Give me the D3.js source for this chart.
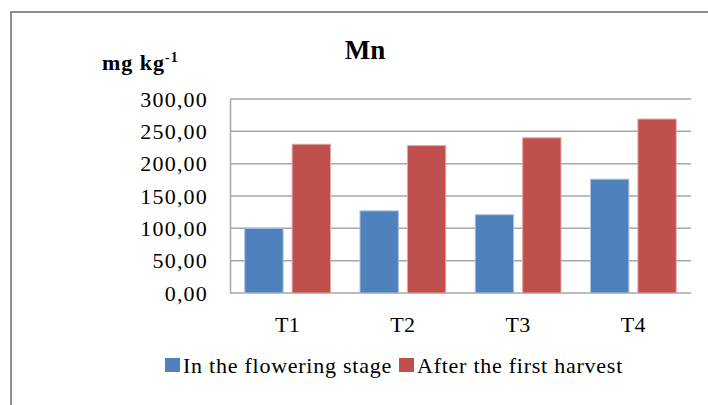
<!DOCTYPE html>
<html lang="en">
<head>
  <meta charset="UTF-8" />
  <title>Mn</title>
  <style>
    body {
      margin: 0;
      background: white;
      overflow: hidden;
    }
    svg text {
      font-family: "Liberation Serif", "Times New Roman", serif;
      fill: #000;
    }
  </style>
</head>
<body>
<svg id="chart" width="708" height="405"></svg>
<script src="https://d3js.org/d3.v7.min.js"></script>
<script>
const categories = ["T1", "T2", "T3", "T4"];
const seriesNames = ["In the flowering stage", "After the first harvest"];
const flowering = [100, 127, 121, 176];
const afterHarvest = [230, 228, 240, 269];
const yTicks = [0, 50, 100, 150, 200, 250, 300];
const colors = ["#4F81BD", "#C0504D"];

const width = 708, height = 405;
const plot = { left: 230, top: 99, right: 691, bottom: 293 };

const svg = d3.select("#chart");

// outer chart frame (runs off the right and bottom edges)
svg.append("rect")
  .attr("x", 11).attr("y", 12)
  .attr("width", 740).attr("height", 440)
  .attr("fill", "white")
  .attr("stroke", "#8c8c8c")
  .attr("stroke-width", 2);

const x0 = d3.scaleBand()
  .domain(categories)
  .range([plot.left, plot.right])
  .paddingInner(0.256)
  .paddingOuter(0.128);

const x1 = d3.scaleBand()
  .domain(seriesNames)
  .range([0, x0.bandwidth()])
  .paddingInner(0.19);

const y = d3.scaleLinear()
  .domain([0, 300])
  .range([plot.bottom, plot.top]);

// gridlines
svg.append("g")
  .selectAll("line")
  .data(yTicks)
  .join("line")
  .attr("x1", plot.left).attr("x2", plot.right)
  .attr("y1", d => y(d)).attr("y2", d => y(d))
  .attr("stroke", "#a6a6a6")
  .attr("stroke-width", 1.5);

// y axis
const fmt = d => d3.format(".2f")(d).replace(".", ",");
const yAxis = svg.append("g")
  .attr("transform", `translate(${plot.left},0)`)
  .call(d3.axisLeft(y).tickValues(yTicks).tickSize(0).tickPadding(22).tickFormat(fmt));
yAxis.select(".domain").attr("stroke", "#a6a6a6").attr("stroke-width", 1.5);
yAxis.selectAll("text")
  .attr("font-size", 22)
  .attr("letter-spacing", 1.2)
  .attr("fill", "#000");

// bars
const data = categories.map((c, i) => ({
  cat: c,
  values: [flowering[i], afterHarvest[i]]
}));

svg.append("g")
  .selectAll("g")
  .data(data)
  .join("g")
  .attr("transform", d => `translate(${x0(d.cat)},0)`)
  .selectAll("rect")
  .data(d => d.values.map((v, j) => ({ series: seriesNames[j], value: v, j })))
  .join("rect")
  .attr("x", d => x1(d.series))
  .attr("y", d => y(d.value))
  .attr("width", x1.bandwidth())
  .attr("height", d => y(0) - y(d.value))
  .attr("fill", d => colors[d.j])
  .attr("stroke", d => d.j === 0 ? "#a9c1e0" : "#e2a9a7")
  .attr("stroke-width", 1);

// category labels
svg.append("g")
  .selectAll("text")
  .data(categories)
  .join("text")
  .attr("x", d => x0(d) + x0.bandwidth() / 2)
  .attr("y", 332)
  .attr("text-anchor", "middle")
  .attr("font-size", 22)
  .attr("letter-spacing", 0.5)
  .text(d => d);

// title and unit
svg.append("text")
  .attr("x", 365).attr("y", 59)
  .attr("text-anchor", "middle")
  .attr("font-size", 27)
  .attr("font-weight", "bold")
  .text("Mn");

const unit = svg.append("text")
  .attr("x", 102).attr("y", 70)
  .attr("font-size", 22)
  .attr("font-weight", "bold")
  .attr("letter-spacing", 1);
unit.append("tspan").text("mg kg");
unit.append("tspan").attr("dy", -8).attr("font-size", 14).text("-1");

// legend
const legendX = [165, 399];
const legend = svg.append("g")
  .selectAll("g")
  .data(seriesNames)
  .join("g")
  .attr("transform", (d, i) => `translate(${legendX[i]},358)`);
legend.append("rect")
  .attr("width", 15).attr("height", 14)
  .attr("fill", (d, i) => colors[i]);
legend.append("text")
  .attr("x", 18).attr("y", 15)
  .attr("font-size", 22)
  .attr("letter-spacing", 0.75)
  .text(d => d);
</script>
</body>
</html>
